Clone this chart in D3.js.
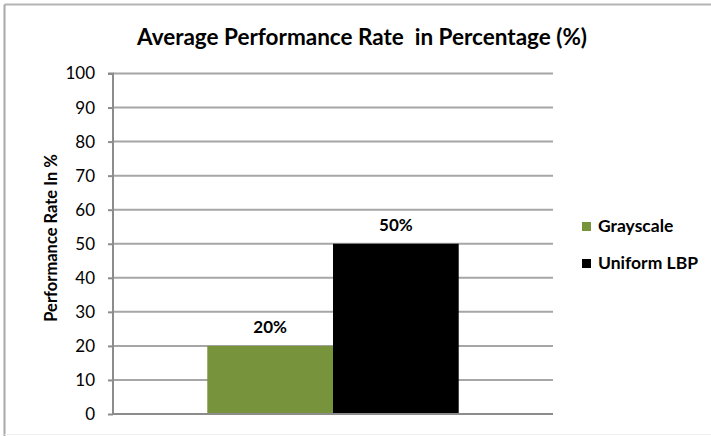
<!DOCTYPE html>
<html>
<head>
<meta charset="utf-8">
<script src="https://cdn.jsdelivr.net/npm/d3@7"></script>
<style>
  body { margin: 0; background: #fff; }
  svg text { font-family: Lato, "Open Sans", sans-serif; fill: #000; }
</style>
</head>
<body>
<div id="chart"></div>
<script>
// chart data
const categories = [""];
const seriesNames = ["Grayscale", "Uniform LBP"];
const seriesValues = [20, 50];
const seriesColors = ["#77933c", "#000000"];
const yTicks = [0, 10, 20, 30, 40, 50, 60, 70, 80, 90, 100];

const width = 711;
const height = 436;
const margin = { top: 73.5, right: 158, bottom: 22, left: 113 };

const svg = d3.select("#chart").append("svg").attr("width", width).attr("height", height);

// outer frame (only top/left edges visible in the picture)
svg.append("line").attr("x1", 4.5).attr("x2", width).attr("y1", 4.5).attr("y2", 4.5).attr("stroke", "#b4b4b4").attr("stroke-width", 2);
svg.append("line").attr("x1", 4.5).attr("x2", 4.5).attr("y1", 4.5).attr("y2", height).attr("stroke", "#a8a8a8").attr("stroke-width", 2);
svg.append("line").attr("x1", 4.5).attr("x2", width).attr("y1", 434.5).attr("y2", 434.5).attr("stroke", "#eeeeee").attr("stroke-width", 1);

const yScale = d3.scaleLinear().domain([0, 100]).range([height - margin.bottom, margin.top]);

const x0 = d3.scaleBand().domain(categories).range([margin.left, width - margin.right]);
const x1 = d3.scaleBand().domain(seriesNames).range([0, x0.bandwidth()]).paddingInner(0).paddingOuter(0.75);

// gridlines
svg
  .append("g")
  .selectAll("line")
  .data(yTicks.filter((d) => d > 0))
  .enter()
  .append("line")
  .attr("x1", margin.left)
  .attr("x2", width - margin.right)
  .attr("y1", (d) => yScale(d))
  .attr("y2", (d) => yScale(d))
  .attr("stroke", "#a6a6a6")
  .attr("stroke-width", 2);

// bars
const group = svg
  .append("g")
  .selectAll("g")
  .data(categories)
  .enter()
  .append("g")
  .attr("transform", (d) => `translate(${x0(d)},0)`);

group
  .selectAll("rect")
  .data(seriesNames.map((name, i) => ({ name, value: seriesValues[i], color: seriesColors[i] })))
  .enter()
  .append("rect")
  .attr("x", (d) => x1(d.name))
  .attr("y", (d) => yScale(d.value))
  .attr("width", x1.bandwidth())
  .attr("height", (d) => yScale(0) - yScale(d.value))
  .attr("fill", (d) => d.color);

group
  .selectAll("text")
  .data(seriesNames.map((name, i) => ({ name, value: seriesValues[i] })))
  .enter()
  .append("text")
  .attr("x", (d) => x1(d.name) + x1.bandwidth() / 2)
  .attr("y", (d) => yScale(d.value) - 13)
  .attr("text-anchor", "middle")
  .attr("font-size", 17)
  .attr("font-weight", "bold")
  .text((d) => d.value + "%");

// y axis
const yAxis = d3.axisLeft(yScale).tickValues(yTicks).tickSize(5).tickPadding(13);
const gy = svg.append("g").attr("transform", `translate(${margin.left},0)`).call(yAxis);
gy.selectAll("path, line").attr("stroke", "#8c8c8c").attr("stroke-width", 2);
gy.select(".domain").attr("d", `M-5,${yScale(100)}H0V${yScale(0)}`);
gy.selectAll("text").attr("font-size", 17).attr("font-family", "Lato, sans-serif").attr("fill", "#000");

// x baseline
svg
  .append("line")
  .attr("x1", margin.left)
  .attr("x2", width - margin.right)
  .attr("y1", yScale(0))
  .attr("y2", yScale(0))
  .attr("stroke", "#8c8c8c")
  .attr("stroke-width", 2);

// title
svg
  .append("text")
  .attr("x", 362)
  .attr("y", 45)
  .attr("text-anchor", "middle")
  .attr("font-size", 22.5)
  .attr("font-weight", "bold")
  .attr("xml:space", "preserve")
  .text("Average Performance Rate  in Percentage (%)");

// y axis title
svg
  .append("text")
  .attr("transform", `translate(57,238) rotate(-90)`)
  .attr("text-anchor", "middle")
  .attr("font-size", 16.5)
  .attr("font-weight", "bold")
  .text("Performance Rate In %");

// legend
const legend = svg
  .append("g")
  .selectAll("g")
  .data(seriesNames)
  .enter()
  .append("g")
  .attr("transform", (d, i) => `translate(582,${222 + i * 37})`);

legend
  .append("rect")
  .attr("width", 9)
  .attr("height", 9)
  .attr("fill", (d, i) => seriesColors[i]);

legend
  .append("text")
  .attr("x", 16)
  .attr("y", 10)
  .attr("font-size", 17.5)
  .attr("font-weight", "bold")
  .text((d) => d);
</script>
</body>
</html>
